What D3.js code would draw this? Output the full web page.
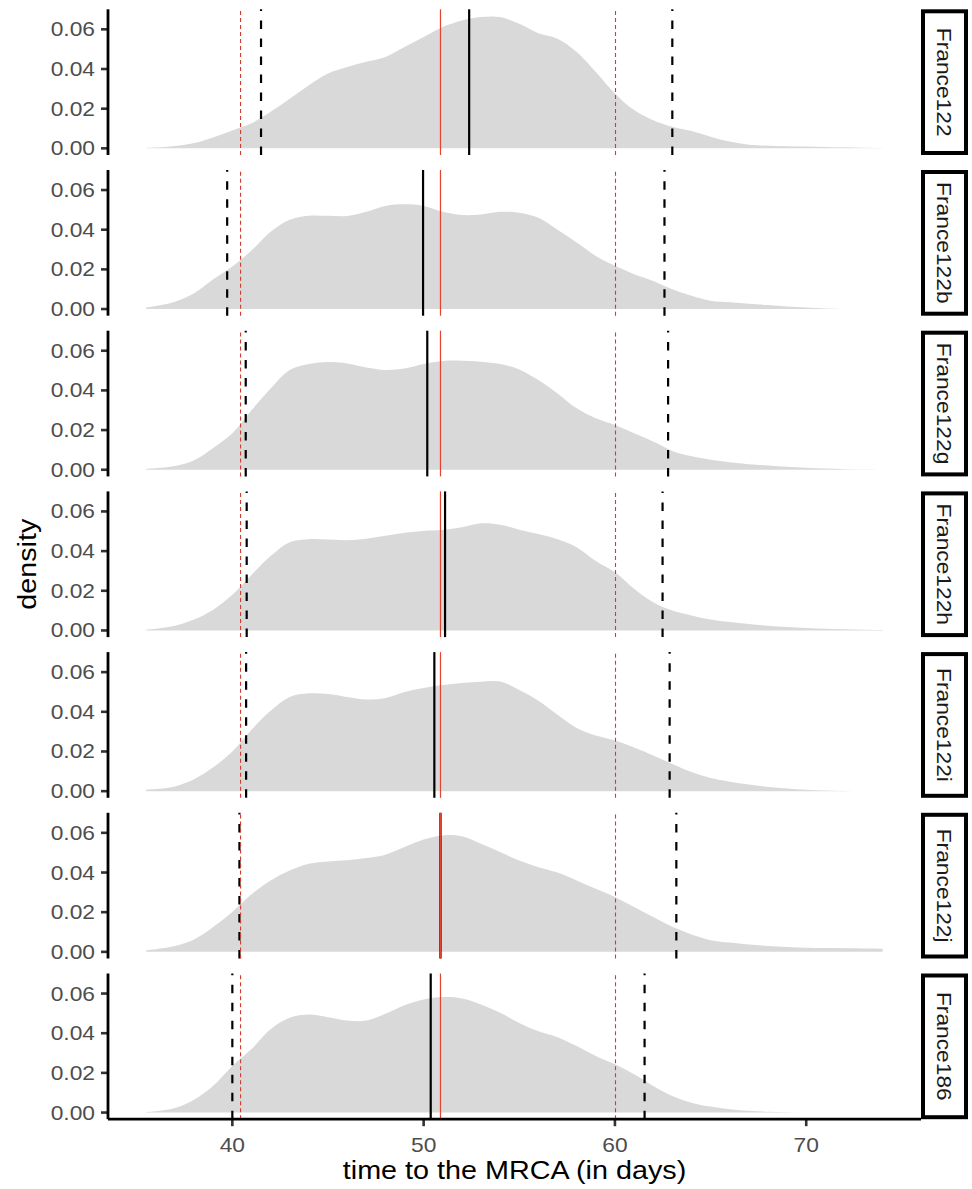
<!DOCTYPE html>
<html><head><meta charset="utf-8">
<script src="https://cdn.jsdelivr.net/npm/d3@7"></script>
<style>
body{margin:0;background:#fff}
svg{display:block}
text{font-family:"Liberation Sans",Arial,Helvetica,sans-serif}
</style></head>
<body>
<script>
// ---------------- data ----------------
const panels = ["France122","France122b","France122g","France122h","France122i","France122j","France186"];
const days = [35.5,36,37,38,39,40,41,42,43,44,45,46,47,48,49,50,51,52,53,54,55,56,57,58,59,60,61,62,63,64,65,66,67,68,69,70,71,72,73,74];
const dens_France122  = [0.0003,0.0004,0.0012,0.0027,0.0055,0.009,0.0126,0.0184,0.025,0.0318,0.0377,0.041,0.0436,0.0461,0.0511,0.0561,0.0612,0.0645,0.0662,0.0662,0.0628,0.058,0.0553,0.0486,0.0385,0.0277,0.0193,0.0142,0.0109,0.0087,0.0059,0.0034,0.0018,0.0013,0.0011,0.0009,0.0007,0.0005,0.0003,0.0001];
const dens_France122b = [0.0008,0.0015,0.0037,0.008,0.015,0.0215,0.0295,0.039,0.045,0.047,0.047,0.0469,0.049,0.052,0.0528,0.052,0.049,0.0474,0.0477,0.049,0.0486,0.046,0.040,0.0335,0.0268,0.0218,0.0176,0.0142,0.010,0.0067,0.0042,0.0034,0.0027,0.002,0.0013,0.0008,0.0003,0,0,0];
const dens_France122g = [0.0005,0.0008,0.0019,0.0048,0.011,0.0184,0.030,0.041,0.0503,0.0533,0.0543,0.0536,0.0516,0.0503,0.051,0.0533,0.0548,0.055,0.0545,0.0533,0.0506,0.0452,0.0385,0.031,0.026,0.0226,0.0184,0.0142,0.0095,0.0068,0.0051,0.0038,0.0028,0.0022,0.0015,0.001,0.0006,0.0003,0.0001,0];
const dens_France122h = [0.0005,0.0009,0.0024,0.0055,0.0105,0.018,0.028,0.0375,0.0445,0.046,0.0458,0.0455,0.0462,0.0477,0.0492,0.0502,0.0506,0.052,0.054,0.0533,0.0508,0.0486,0.046,0.042,0.035,0.0293,0.021,0.0142,0.010,0.0075,0.0055,0.0042,0.0032,0.0024,0.0018,0.0013,0.0009,0.0006,0.0004,0.0002];
const dens_France122i = [0.0008,0.0011,0.0024,0.006,0.012,0.020,0.031,0.0405,0.0475,0.0493,0.049,0.0475,0.0462,0.047,0.050,0.052,0.0535,0.0545,0.0552,0.0553,0.051,0.0456,0.0385,0.0318,0.028,0.0255,0.022,0.018,0.0137,0.0096,0.0066,0.0048,0.0033,0.0021,0.0013,0.0007,0.0003,0.0001,0,0];
const dens_France122j = [0.0008,0.0013,0.0029,0.0062,0.0125,0.0201,0.029,0.036,0.041,0.0444,0.0456,0.0462,0.0473,0.049,0.0528,0.0566,0.0587,0.0583,0.0545,0.0503,0.046,0.0427,0.040,0.036,0.0318,0.0277,0.0226,0.0176,0.0126,0.0087,0.0059,0.0047,0.0037,0.003,0.0025,0.0021,0.0019,0.0018,0.0017,0.0016];
const dens_France186  = [0.0003,0.0007,0.0023,0.0065,0.0135,0.0235,0.032,0.042,0.0478,0.0494,0.0481,0.0464,0.0464,0.0498,0.0541,0.057,0.0582,0.0575,0.0545,0.0503,0.0452,0.041,0.038,0.0335,0.0285,0.0243,0.0193,0.0134,0.0084,0.005,0.003,0.0017,0.0009,0.0004,0.0001,0,0,0,0,0];
const densities = [dens_France122,dens_France122b,dens_France122g,dens_France122h,dens_France122i,dens_France122j,dens_France186];
const medians = [52.38,49.97,50.19,51.12,50.56,50.88,50.37];
const lower95 = [41.50,39.73,40.70,40.75,40.72,40.37,40.00];
const upper95 = [63.00,62.59,62.78,62.49,62.86,63.21,61.55];
const refMedian = 50.88, refLower = 40.43, refUpper = 60.03;
const xTicks = [40,50,60,70];
const yTicks = [0,0.02,0.04,0.06];
const xTitle = "time to the MRCA (in days)";
const yTitle = "density";

// ---------------- layout ----------------
const W = 972, H = 1189;
const L = 108, R = 921;
const top0 = 9.3, pitch = 160.7, pH = 145.7;
const stripX0 = 921, stripX1 = 968;
const SX = 1.15; // horizontal glyph stretch of the original rendering

const svg = d3.select("body").append("svg").attr("width", W).attr("height", H);

const x = d3.scaleLinear().domain([33.5, 76]).range([L, R]);

function txt(g, px, py, s, o) {
  return g.append("text")
    .attr("transform", `translate(${px},${py}) rotate(${o.rot||0}) scale(${SX},1)`)
    .attr("text-anchor", o.anchor || "start")
    .attr("font-size", o.size)
    .attr("fill", o.fill || "#000")
    .text(s);
}

panels.forEach((name, i) => {
  const t = top0 + i * pitch, b = t + pH;
  const y = d3.scaleLinear().domain([-0.00335, 0.0701]).range([b, t]);
  const g = svg.append("g");
  const pts = days.map((d, k) => [d, densities[i][k]]);

  g.append("path")
    .datum(pts)
    .attr("fill", "#d9d9d9")
    .attr("d", d3.area().x(d => x(d[0])).y0(y(0)).y1(d => y(Math.max(0, d[1]))).curve(d3.curveCatmullRom.alpha(0.5)));

  // black: median (solid) and 95% interval (dashed)
  [[lower95[i], true], [medians[i], false], [upper95[i], true]].forEach(([v, dashed]) => {
    g.append("line")
      .attr("x1", x(v)).attr("x2", x(v)).attr("y1", b).attr("y2", t)
      .attr("stroke", "#000").attr("stroke-width", 2.2)
      .attr("stroke-dasharray", dashed ? "8.5,9.5" : null);
  });
  // red reference lines
  [[refLower, true], [refMedian, false], [refUpper, true]].forEach(([v, dashed]) => {
    g.append("line")
      .attr("x1", x(v)).attr("x2", x(v)).attr("y1", b).attr("y2", t)
      .attr("stroke", dashed ? "#cc3f2f" : "#e4432d")
      .attr("stroke-width", dashed ? 1.1 : 1.2)
      .attr("stroke-dasharray", dashed ? "4,3" : null);
  });

  // y axis
  yTicks.forEach(v => {
    g.append("line").attr("x1", L - 7).attr("x2", L).attr("y1", y(v)).attr("y2", y(v))
      .attr("stroke", "#333").attr("stroke-width", 2.6);
    txt(g, 95, y(v) + 7, d3.format(".2f")(v), {size: 19.8, anchor: "end", fill: "#4d4d4d"});
  });
  g.append("line").attr("x1", L).attr("x2", L).attr("y1", t).attr("y2", b)
    .attr("stroke", "#000").attr("stroke-width", 2.8);

  // strip
  const sw = 4;
  g.append("rect")
    .attr("x", stripX0 + sw/2).attr("y", t + sw/2)
    .attr("width", stripX1 - stripX0 - sw).attr("height", pH - sw)
    .attr("fill", "#fff").attr("stroke", "#000").attr("stroke-width", sw);
  txt(g, 936.5, (t + b) / 2, name, {size: 19.8, anchor: "middle", rot: 90, fill: "#1a1a1a"});
});

// x axis at the bottom panel
const lastB = top0 + (panels.length - 1) * pitch + pH;
const ax = svg.append("g");
xTicks.forEach(v => {
  ax.append("line").attr("x1", x(v)).attr("x2", x(v)).attr("y1", lastB).attr("y2", lastB + 7)
    .attr("stroke", "#333").attr("stroke-width", 2.6);
  txt(ax, x(v), 1152, String(v), {size: 19.8, anchor: "middle", fill: "#4d4d4d"});
});
ax.append("line").attr("x1", L).attr("x2", R).attr("y1", lastB).attr("y2", lastB)
  .attr("stroke", "#000").attr("stroke-width", 2.8);

txt(svg, (L + R) / 2, 1179, xTitle, {size: 25, anchor: "middle"});
txt(svg, 36, top0 + (lastB - top0) / 2, yTitle, {size: 25, anchor: "middle", rot: -90});
</script>
</body></html>
